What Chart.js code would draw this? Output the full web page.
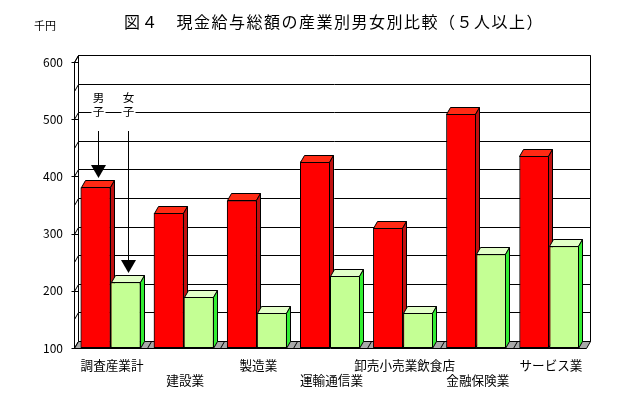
<!DOCTYPE html>
<html lang="ja">
<head>
<meta charset="utf-8">
<title>図４ 現金給与総額の産業別男女別比較</title>
<script src="https://cdn.jsdelivr.net/npm/chart.js@4.4.1/dist/chart.umd.min.js"></script>
<style>
  html, body { margin: 0; padding: 0; background: #fff; }
  #wrap { position: relative; width: 625px; height: 403px; font-family: "Noto Sans CJK JP", sans-serif; color: #000; }
  #title { position: absolute; left: 124px; top: 11px; font-size: 16px; line-height: 20px; letter-spacing: 1.5px; white-space: nowrap; }
  #unit { position: absolute; left: 34px; top: 18px; font-size: 11px; line-height: 14px; letter-spacing: 0; }
  canvas { position: absolute; left: 0; top: 0; }
</style>
</head>
<body>
<div id="wrap">
  <canvas id="wageChart" width="625" height="403"></canvas>
  <div id="title">図４　現金給与総額の産業別男女別比較（５人以上）</div>
  <div id="unit">千円</div>
</div>
<script>
// Data (千円)
const categories = ['調査産業計', '建設業', '製造業', '運輸通信業', '卸売小売業飲食店', '金融保険業', 'サービス業'];
const maleValues = [381, 336, 358, 426, 310, 509, 436];
const femaleValues = [215, 189, 161, 226, 162, 264, 278];
const yMin = 100;
const yMax = 600;
const yStep = 100;
const gridStep = 50;

// Look of the fake 3D boxes
const DX = 4, DY = -7;
const frontColors = ['#ff0000', '#c4ff94'];
const topColors = ['#ff2a14', '#e2ffc8'];
const sideColors = ['#c01010', '#33ee33'];

const px = v => Math.round(v) + 0.5;

function line(ctx, x1, y1, x2, y2) {
    ctx.beginPath();
    ctx.moveTo(x1, y1);
    ctx.lineTo(x2, y2);
    ctx.stroke();
}

function face(ctx, pts, fill) {
    ctx.beginPath();
    ctx.moveTo(pts[0][0], pts[0][1]);
    for (let i = 1; i < pts.length; i++) ctx.lineTo(pts[i][0], pts[i][1]);
    ctx.closePath();
    ctx.fillStyle = fill;
    ctx.fill();
    ctx.stroke();
}

// Walls, floor and gridlines behind the bars
const walls = {
    id: 'walls',
    beforeDatasetsDraw(chart) {
        const { ctx, chartArea: a, scales: { x, y } } = chart;
        const L = px(a.left), R = px(a.right), T = px(a.top), B = px(a.bottom);
        ctx.save();
        ctx.lineWidth = 1;
        ctx.strokeStyle = '#000';
        // back wall
        face(ctx, [[L + DX, T + DY], [R + DX, T + DY], [R + DX, B + DY], [L + DX, B + DY]], '#fff');
        // left wall
        face(ctx, [[L, T], [L + DX, T + DY], [L + DX, B + DY], [L, B]], '#fff');
        for (let v = yMin; v <= yMax; v += gridStep) {
            const py = px(y.getPixelForValue(v));
            line(ctx, L + DX, py + DY, R + DX, py + DY);
            line(ctx, L, py, L + DX, py + DY);
            if ((v - yMin) % yStep === 0) line(ctx, L - 3, py, L + 4, py);
        }
        // floor
        face(ctx, [[L, B], [R, B], [R + DX, B + DY], [L + DX, B + DY]], '#a8a8a8');
        for (let i = 0; i < categories.length - 1; i++) {
            const bx = px((x.getPixelForValue(i) + x.getPixelForValue(i + 1)) / 2);
            line(ctx, bx, B, bx + DX, B + DY);
        }
        ctx.restore();
    },
    // redraw bars category by category so the side faces stack correctly
    afterDatasetsDraw(chart) {
        const { ctx, chartArea } = chart;
        ctx.save();
        for (let i = 0; i < categories.length; i++) {
            for (let d = 0; d < chart.data.datasets.length; d++) {
                const el = chart.getDatasetMeta(d).data[i];
                el.draw(ctx, chartArea);
                const { x, y, base, width } = el.getProps(['x', 'y', 'base', 'width'], true);
                const l = px(x - width / 2), r = px(x + width / 2) - 1, t = px(y), b = px(base);
                ctx.lineWidth = 1;
                ctx.strokeStyle = '#000';
                face(ctx, [[l, t], [r, t], [r + DX, t + DY], [l + DX, t + DY]], topColors[d]);
                face(ctx, [[r, t], [r, b], [r + DX, b + DY], [r + DX, t + DY]], sideColors[d]);
            }
        }
        ctx.restore();
    },
    // 男子 / 女子 pointers on the first category
    afterDraw(chart) {
        const ctx = chart.ctx;
        const marks = [['男', '子'], ['女', '子']];
        ctx.save();
        ctx.font = '11.5px "Noto Sans CJK JP"';
        ctx.textAlign = 'center';
        ctx.textBaseline = 'middle';
        ctx.strokeStyle = '#000';
        ctx.lineWidth = 1;
        marks.forEach((chars, d) => {
            const el = chart.getDatasetMeta(d).data[0];
            const ax = px(el.x + DX / 2);
            const tip = Math.round(el.y + DY - 2);
            chars.forEach((ch, k) => {
                const ty = 98 + k * 13.5;
                ctx.fillStyle = '#fff';
                ctx.fillRect(ax - 7, ty - 6, 14, 13);
                ctx.fillStyle = '#000';
                ctx.fillText(ch, ax, ty);
            });
            line(ctx, ax, 131, ax, tip - 12);
            ctx.beginPath();
            ctx.moveTo(ax - 7.5, tip - 13);
            ctx.lineTo(ax + 7.5, tip - 13);
            ctx.lineTo(ax, tip);
            ctx.closePath();
            ctx.fillStyle = '#000';
            ctx.fill();
        });
        ctx.restore();
    }
};

Chart.defaults.font.family = '"Noto Sans CJK JP", sans-serif';
Chart.defaults.color = '#000';

const ctx = document.getElementById('wageChart').getContext('2d');
new Chart(ctx, {
    type: 'bar',
    data: {
        labels: categories,
        datasets: [
            {
                label: '男子',
                data: maleValues,
                base: yMin,
                backgroundColor: frontColors[0],
                borderColor: '#000',
                borderWidth: 1,
                borderSkipped: false,
                inflateAmount: 0
            },
            {
                label: '女子',
                data: femaleValues,
                base: yMin,
                backgroundColor: frontColors[1],
                borderColor: '#000',
                borderWidth: 1,
                borderSkipped: false,
                inflateAmount: 0
            }
        ]
    },
    options: {
        responsive: false,
        animation: false,
        devicePixelRatio: 1,
        categoryPercentage: 0.82,
        barPercentage: 1,
        layout: { padding: { left: 0, top: 62, right: 39, bottom: 0 } },
        plugins: {
            legend: { display: false },
            title: { display: false },
            tooltip: { enabled: false }
        },
        scales: {
            x: {
                offset: true,
                grid: { display: false, drawTicks: false },
                border: { display: false },
                ticks: {
                    autoSkip: false,
                    maxRotation: 0,
                    padding: 9,
                    labelOffset: 1.5,
                    font: { size: 12.6, lineHeight: 1.23 },
                    // alternate the labels over two rows
                    callback: function(value, index) {
                        return index % 2 === 0 ? [categories[index], ''] : ['', categories[index]];
                    }
                },
                afterFit: function(scale) { scale.height = 55; }
            },
            y: {
                min: yMin,
                max: yMax,
                grid: { display: false, drawTicks: false },
                border: { display: false },
                ticks: { stepSize: yStep, padding: 11, font: { size: 12 } },
                afterFit: function(scale) { scale.width = 74; }
            }
        }
    },
    plugins: [walls]
});
</script>
</body>
</html>
